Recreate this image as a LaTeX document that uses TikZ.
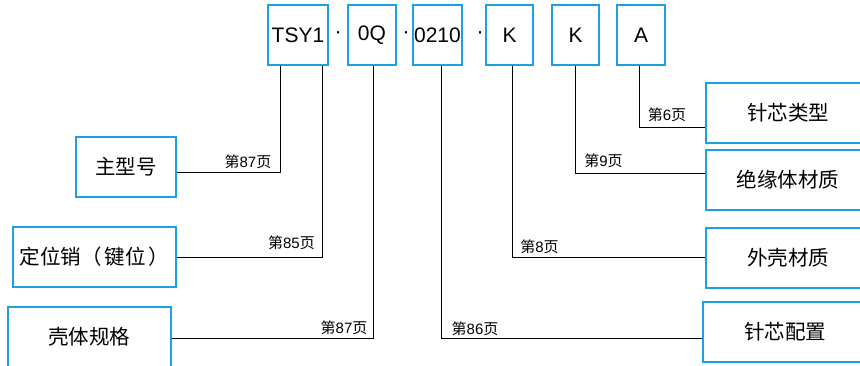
\documentclass[tikz,border=0pt]{standalone}
\usepackage{fontspec}
\setmainfont{Liberation Sans}
\newfontfamily\cjk{Noto Sans CJK SC}
\newcommand{\pg}[1]{{\cjk 第}#1{\cjk 页}}
\definecolor{boxblue}{RGB}{27,161,226}

\begin{document}
\begin{tikzpicture}[x=1pt,y=-1pt,
    codebox/.style={draw=boxblue, line width=1.5pt, minimum height=60pt, inner sep=0pt, font=\fontsize{21}{21}\selectfont},
    itembox/.style={codebox, font=\cjk\fontsize{20.5}{20.5}\selectfont},
    sep/.style={inner sep=0pt, font=\fontsize{21}{21}\selectfont},
    page/.style={inner sep=0pt, font=\fontsize{15}{15}\selectfont},
    link/.style={line width=0.8pt}]
            \useasboundingbox (0,0) rectangle (860,366);
            \clip (0,0) rectangle (860,366);
            % code line
            \node[codebox, minimum width=60pt] (tsy) at (298,35) {TSY1};
            \node[sep] (d1) at (338,35) {·};
            \node[codebox, minimum width=48pt] (oq) at (372,35) {0Q};
            \node[sep] (d2) at (406,35) {·};
            \node[codebox, minimum width=49pt] (pos) at (437.5,35) {0210};
            \node[sep] (d3) at (480,35) {·};
            \node[codebox, minimum width=47pt] (kone) at (509.5,35) {K};
            \node[codebox, minimum width=47pt] (ktwo) at (575.5,35) {K};
            \node[codebox, minimum width=48pt] (a) at (641,35) {A};
            % left side
            \node[itembox, minimum width=100pt] (zxh) at (126,167) {主型号};
            \node[itembox, minimum width=163pt] (dwx) at (94.5,257) {定位销（\hspace{3pt}键位\hspace{3pt}）};
            \node[itembox, minimum width=163pt] (kt) at (89.5,337) {壳体规格};
            % right side
            \node[itembox, minimum width=164pt] (zxlx) at (788,113) {针芯类型};
            \node[itembox, minimum width=164pt] (jyt) at (788,180) {绝缘体材质};
            \node[itembox, minimum width=164pt] (wk) at (788,258) {外壳材质};
            \node[itembox, minimum width=164pt] (zxpz) at (785,332) {针芯配置};
            % links
            \draw[link] ([xshift=-18pt]tsy.south) |- ([yshift=-5pt]zxh.east);
            \draw[link] ([xshift=24pt]tsy.south) |- (dwx.east);
            \draw[link] ([xshift=1pt]oq.south) |- ([yshift=-1pt]kt.east);
            \draw[link] ([xshift=3.5pt]pos.south) |- ([yshift=-6pt]zxpz.west);
            \draw[link] ([xshift=2.5pt]kone.south) |- ([yshift=1pt]wk.west);
            \draw[link] (ktwo.south) |- ([yshift=7pt]jyt.west);
            \draw[link] ([xshift=-2pt]a.south) |- ([yshift=-14pt]zxlx.west);
            % page numbers
            \node[page] (p1) at (248,162) {\pg{87}};
            \node[page] (p2) at (291.5,243) {\pg{85}};
            \node[page] (p3) at (344,328) {\pg{87}};
            \node[page] (p4) at (475,329) {\pg{86}};
            \node[page] (p5) at (539.5,246.5) {\pg{8}};
            \node[page] (p6) at (603.5,160.5) {\pg{9}};
            \node[page] (p7) at (667,114.5) {\pg{6}};
\end{tikzpicture}
\end{document}
